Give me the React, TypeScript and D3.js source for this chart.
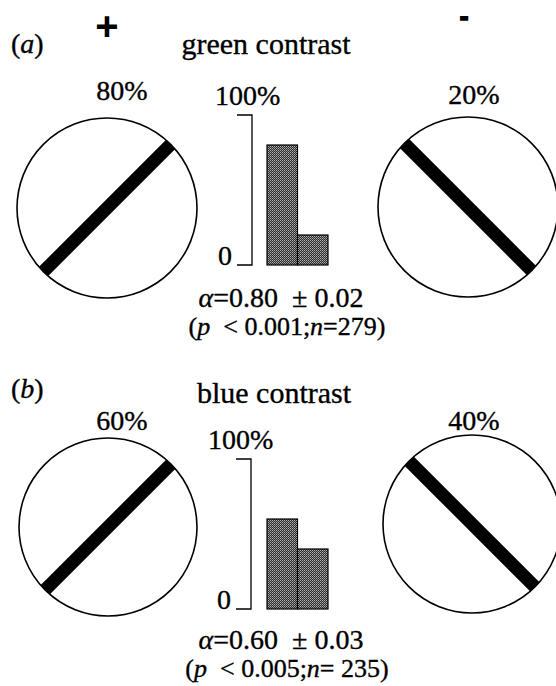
import React, { useEffect, useRef } from "react";
import * as d3 from "d3";

// ---- data ----
const panelTags = ["(a)", "(b)"];
const titles = ["green contrast", "blue contrast"];
const plusPct = [80, 60]; // choices for the "+" grating
const minusPct = [20, 40]; // choices for the "-" grating
const alphaVals = ["0.80", "0.60"];
const alphaErr = ["0.02", "0.03"];
const pVals = ["0.001", "0.005"];
const nVals = ["=279", "= 235"];
const barKeys = ["plus", "minus"];

// per-panel placement (page px)
const panelY = [0, 345];
const titleX = [266, 274];
const titleY = [54, 403];
const circY = [[208, 207], [527, 524]];
const circX = [[107, 468], [108, 472]];
const circR = [90, 89];

const FONT = "'Liberation Serif', 'Times New Roman', serif";

const App = () => {
  const svgRef = useRef<SVGSVGElement | null>(null);

  useEffect(() => {
    const svg = d3.select(svgRef.current);
    svg.selectAll("*").remove();

    // stipple fill for the bars (halftone look of the scan)
    const defs = svg.append("defs");
    const pat = defs
      .append("pattern")
      .attr("id", "stip")
      .attr("width", 2)
      .attr("height", 2)
      .attr("patternUnits", "userSpaceOnUse");
    pat.append("rect").attr("width", 2).attr("height", 2).attr("fill", "#2c2c2c");
    pat.append("rect").attr("width", 1).attr("height", 1).attr("fill", "#b4b4b4");
    pat.append("rect").attr("x", 1).attr("y", 1).attr("width", 1).attr("height", 1).attr("fill", "#858585");

    // + and - headers
    svg.append("text").attr("x", 107).attr("y", 40).attr("text-anchor", "middle")
      .attr("font-family", "'Liberation Sans', Arial, sans-serif").attr("font-weight", "bold")
      .attr("font-size", 40).text("+");
    svg.append("text").attr("x", 464).attr("y", 25).attr("text-anchor", "middle")
      .attr("font-family", "'Liberation Sans', Arial, sans-serif").attr("font-weight", "bold")
      .attr("font-size", 26).attr("stroke", "#000").attr("stroke-width", 1.6).text("-");

    panelTags.forEach((tag, i) => {
      const dy = panelY[i];
      const g = svg.append("g").attr("font-family", FONT).attr("fill", "#000")
        .attr("stroke", "#000").attr("stroke-width", 0.35);

      // panel tag "(a)"
      const t = g.append("text").attr("x", 11).attr("y", 53 + dy).attr("font-size", 28);
      t.append("tspan").text("(");
      t.append("tspan").attr("font-style", "italic").text(tag.slice(1, 2));
      t.append("tspan").text(")");

      g.append("text").attr("x", titleX[i]).attr("y", titleY[i]).attr("text-anchor", "middle")
        .attr("font-size", 30).text(titles[i]);

      // percent labels above circles
      g.append("text").attr("x", 122).attr("y", (i === 0 ? 100 : 430)).attr("text-anchor", "middle")
        .attr("font-size", 28).text(plusPct[i] + "%");
      g.append("text").attr("x", 474).attr("y", (i === 0 ? 104 : 430)).attr("text-anchor", "middle")
        .attr("font-size", 28).text(minusPct[i] + "%");

      // grating circles
      [0, 1].forEach((k) => {
        const cx = circX[i][k];
        const cy = circY[i][k];
        const r = circR[i];
        g.append("circle").attr("cx", cx).attr("cy", cy).attr("r", r)
          .attr("fill", "#fff").attr("stroke", "#000").attr("stroke-width", 1.6);
        const c = Math.SQRT1_2 * r;
        const sgn = k === 0 ? 1 : -1; // "/" for +, "\" for -
        g.append("line")
          .attr("x1", cx - c).attr("y1", cy + sgn * c)
          .attr("x2", cx + c).attr("y2", cy - sgn * c)
          .attr("stroke", "#000").attr("stroke-width", 13).attr("stroke-linecap", "butt");
      });

      // histogram
      const top = i === 0 ? 115 : 459;
      const bottom = top + 150;
      const y = d3.scaleLinear().domain([0, 100]).range([bottom, top]);
      const x = d3.scaleBand().domain(barKeys).range([267, 328]).padding(0);
      const vals = [plusPct[i], minusPct[i]];
      const bx = i === 0 ? 252 : 251;

      g.append("path")
        .attr("d", `M${bx - 15},${y(100)}H${bx}V${y(0)}H${bx - 15}`)
        .attr("fill", "none").attr("stroke", "#000").attr("stroke-width", 1.3);
      g.append("text").attr("x", bx - 20).attr("y", y(0)).attr("text-anchor", "end")
        .attr("font-size", 28).text("0");
      g.append("text").attr("x", i === 0 ? 215 : 208).attr("y", y(100) - 10)
        .attr("font-size", 28).text("100%");

      g.selectAll("rect.bar")
        .data(vals)
        .join("rect")
        .attr("class", "bar")
        .attr("x", (_, j) => x(barKeys[j]) as number)
        .attr("y", (d) => y(d))
        .attr("width", x.bandwidth())
        .attr("height", (d) => y(0) - y(d))
        .attr("fill", "url(#stip)")
        .attr("stroke", "#000")
        .attr("stroke-width", 1.2);

      // statistics
      const sy = i === 0 ? 307 : 649;
      const s1 = g.append("text").attr("x", 281).attr("y", sy).attr("text-anchor", "middle").attr("font-size", 28);
      s1.append("tspan").attr("font-style", "italic").text("α");
      s1.append("tspan").text("=" + alphaVals[i] + "\u00a0\u00a0±\u00a0" + alphaErr[i]);

      const s2 = g.append("text").attr("x", 287).attr("y", sy + 28).attr("text-anchor", "middle").attr("font-size", 26);
      s2.append("tspan").text("(");
      s2.append("tspan").attr("font-style", "italic").text("p");
      s2.append("tspan").text("\u00a0\u00a0<\u00a0" + pVals[i] + ";");
      s2.append("tspan").attr("font-style", "italic").text("n");
      s2.append("tspan").text(nVals[i] + ")");
    });
  }, []);

  return (
    <svg
      ref={svgRef}
      width={556}
      height={686}
      style={{ position: "absolute", left: 0, top: 0, background: "#fff", display: "block" }}
    />
  );
};

export default App;
